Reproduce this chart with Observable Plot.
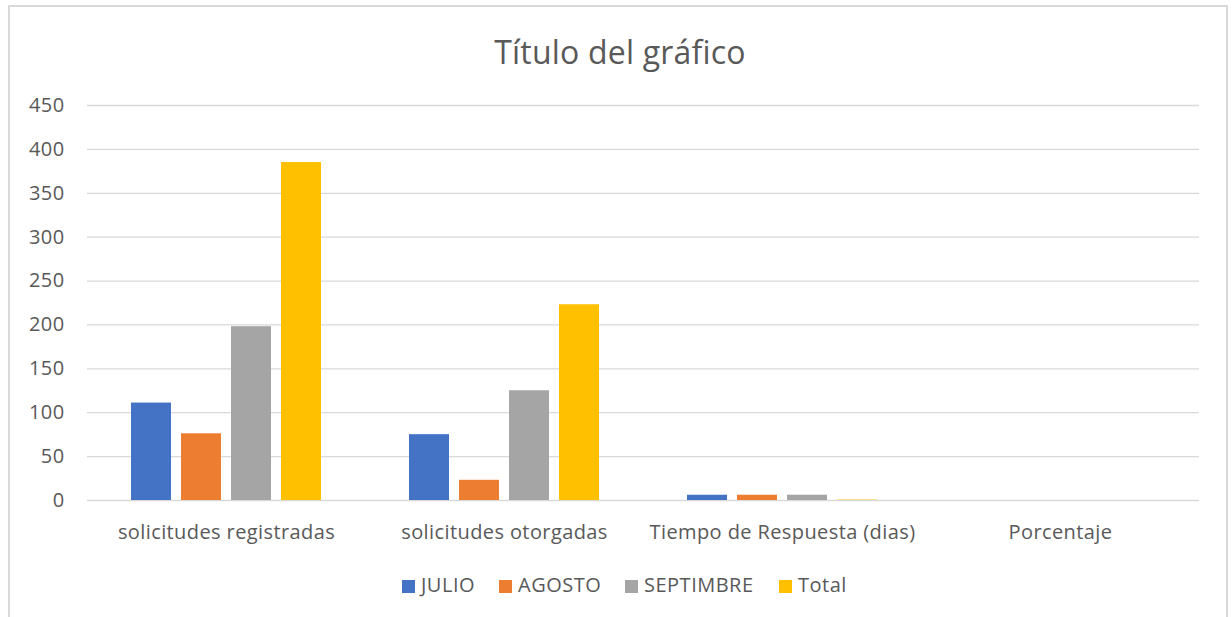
<!DOCTYPE html>
<html>
<head>
<meta charset="utf-8">
<script src="https://cdn.jsdelivr.net/npm/d3@7"></script>
<script src="https://cdn.jsdelivr.net/npm/@observablehq/plot@0.6"></script>
<style>
  html, body { margin: 0; padding: 0; background: #fff; width: 1232px; height: 617px; overflow: hidden; }
  body { position: relative; font-family: "Open Sans", "Liberation Sans", sans-serif; color: #595959; }
  #frame { position: absolute; left: 8px; top: 5px; width: 1220px; height: 640px; border: 2px solid #d9d9d9; box-sizing: border-box; }
  #title { position: absolute; left: 4px; width: 1232px; top: 30px; text-align: center; font-size: 32px; line-height: 44px; color: #595959; letter-spacing: 0.2px; }
  #chart { position: absolute; left: 0; top: 90px; }
  #chart svg text { letter-spacing: 0.4px; }
  #legend { position: absolute; top: 572px; left: 0; width: 1232px; height: 26px; font-size: 20px; color: #595959; letter-spacing: 0.5px; }
  .item { position: absolute; top: 0; line-height: 26px; white-space: nowrap; }
  .sw { display: inline-block; width: 13px; height: 13px; margin-right: 6px; vertical-align: -1px; }
</style>
</head>
<body>
<div id="frame"></div>
<div id="title">Título del gráfico</div>
<div id="chart"></div>
<div id="legend"></div>
<script>
const categories = ["solicitudes registradas", "solicitudes otorgadas", "Tiempo de Respuesta (dias)", "Porcentaje"];
const series = ["JULIO", "AGOSTO", "SEPTIMBRE", "Total"];
const julio = [111, 75, 6, 0];
const agosto = [76, 23, 6, 0];
const septimbre = [198, 125, 6, 0];
const total = [385, 223, 0.5, 0];
const colors = ["#4472C4", "#ED7D31", "#A5A5A5", "#FFC000"];
const yTicks = [0, 50, 100, 150, 200, 250, 300, 350, 400, 450];
const legendX = [402, 499, 625, 779];

const seriesValues = [julio, agosto, septimbre, total];
const data = [];
categories.forEach((c, i) => {
  series.forEach((s, j) => {
    data.push({category: c, series: s, value: seriesValues[j][i]});
  });
});

const chart = Plot.plot({
  width: 1232,
  height: 460,
  marginLeft: 85,
  marginRight: 32,
  marginTop: 15,
  marginBottom: 50,
  style: {fontFamily: "'Open Sans', 'Liberation Sans', sans-serif", fontSize: "20px", color: "#595959", background: "transparent"},
  fx: {domain: categories, padding: 0, label: null, axis: null},
  x: {domain: series, paddingInner: 0.2, paddingOuter: 0.85, axis: null},
  y: {domain: [0, 450], axis: null},
  color: {domain: series, range: colors},
  marks: [
    Plot.ruleY(yTicks, {stroke: "#d9d9d9", strokeWidth: 1.3}),
    Plot.barY(data, {fx: "category", x: "series", y: "value", fill: "series"}),
    Plot.axisY({ticks: yTicks, tickSize: 0, tickPadding: 23, label: null, fontSize: 20}),
    Plot.axisFx({anchor: "bottom", tickSize: 0, tickPadding: 24, label: null, fontSize: 20})
  ]
});
document.getElementById("chart").appendChild(chart);

const legend = document.getElementById("legend");
series.forEach((s, i) => {
  const d = document.createElement("div");
  d.className = "item";
  d.style.left = legendX[i] + "px";
  d.innerHTML = `<span class="sw" style="background:${colors[i]}"></span>${s}`;
  legend.appendChild(d);
});
</script>
</body>
</html>
